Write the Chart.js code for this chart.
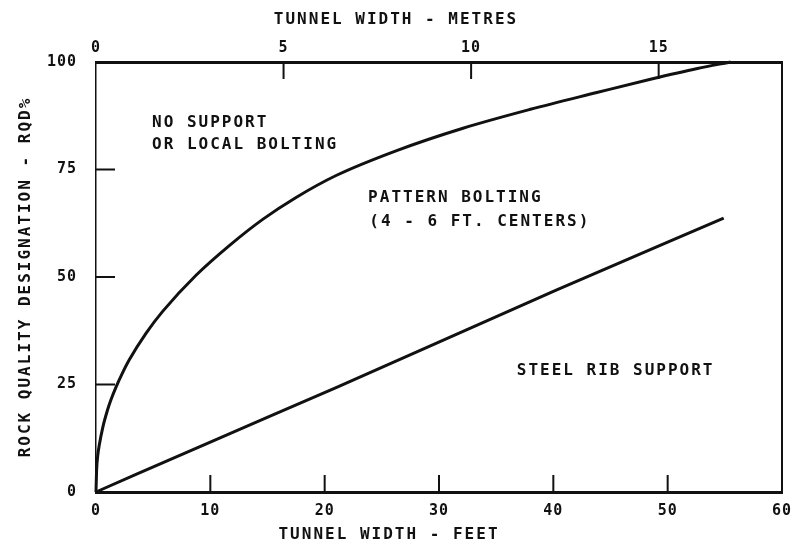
<!DOCTYPE html>
<html>
<head>
<meta charset="utf-8">
<script src="https://cdn.jsdelivr.net/npm/chart.js@4/dist/chart.umd.min.js"></script>
<style>
  html, body { margin: 0; padding: 0; background: #fff; }
  canvas { display: block; }
</style>
</head>
<body>
<canvas id="rqdChart" width="794" height="549"></canvas>
<script>
// -------- DATA ---------------------------------------------------------------
// boundary: no support / pattern bolting
const upperX = [0, 0.05, 0.15, 0.3, 0.6, 1, 1.3, 1.75, 2.3, 2.9, 4.37, 5.83, 8.75, 11.66, 14.58, 17.5, 21, 26.3, 32.1, 38, 43.8, 48.5, 52.6, 55.5];
const upperY = [0, 4.9, 8.4, 11.1, 15.1, 19, 21.4, 24.4, 27.6, 30.7, 36.9, 42, 50.4, 57.3, 63.4, 68.5, 73.6, 79.4, 84.6, 89, 92.9, 96, 98.5, 100];
// boundary: pattern bolting / steel rib support
const lowerX = [0, 10.5, 21, 40.2, 54.9];
const lowerY = [0, 12.2, 24.3, 46.9, 63.7];

const feetTicks = [0, 10, 20, 30, 40, 50, 60];
const metreTicks = [0, 5, 10, 15];
const rqdTicks = [0, 25, 50, 75, 100];

const regionNames = ["NO SUPPORT", "OR LOCAL BOLTING", "PATTERN BOLTING", "(4 - 6 FT. CENTERS)", "STEEL RIB SUPPORT"];
const regionX = [4.9, 4.9, 23.8, 23.9, 36.8];
const regionY = [85.8, 80.7, 68.4, 62.8, 28.1];

const FT_PER_M = 3.28084;
const ink = '#111';
const monoFont = "'DejaVu Sans Mono', 'Liberation Mono', monospace";

function toPoints(xs, ys) {
    return xs.map((x, i) => ({x: x, y: ys[i]}));
}

// keep the plot frame where the drawing has it
function fixBox(w, h) {
    return s => {
        if (w !== null) s.width = w;
        if (h !== null) s.height = h;
        s.paddingLeft = 0;
        s.paddingRight = 0;
        s.paddingTop = 0;
        s.paddingBottom = 0;
    };
}

// -------- INWARD TICKS, REGION NAMES, AXIS TITLES ----------------------------
const paperMarks = {
    id: 'paperMarks',
    beforeDraw(chart) {
        chart.ctx.letterSpacing = '1px';
    },
    afterDraw(chart) {
        const {ctx, chartArea: a, scales} = chart;
        const len = 17;
        ctx.save();
        ctx.strokeStyle = ink;
        ctx.lineWidth = 2;
        ctx.beginPath();
        feetTicks.forEach(v => {
            if (v <= 0 || v >= 60) return;
            const px = scales.x.getPixelForValue(v);
            ctx.moveTo(px, a.bottom);
            ctx.lineTo(px, a.bottom - len);
        });
        metreTicks.forEach(v => {
            if (v <= 0) return;
            const px = scales.xTop.getPixelForValue(v);
            ctx.moveTo(px, a.top);
            ctx.lineTo(px, a.top + len);
        });
        rqdTicks.forEach(v => {
            if (v <= 0 || v >= 100) return;
            const py = scales.y.getPixelForValue(v);
            ctx.moveTo(a.left, py);
            ctx.lineTo(a.left + 19, py);
        });
        ctx.stroke();

        ctx.fillStyle = ink;
        ctx.font = "bold 16px " + monoFont;
        ctx.letterSpacing = '2px';
        ctx.textBaseline = 'middle';

        // region names inside the plot
        ctx.textAlign = 'left';
        regionNames.forEach((txt, i) => {
            ctx.fillText(txt, scales.x.getPixelForValue(regionX[i]), scales.y.getPixelForValue(regionY[i]));
        });

        // axis titles
        ctx.textAlign = 'center';
        ctx.fillText("TUNNEL WIDTH - METRES", a.left + 300, 20);
        ctx.fillText("TUNNEL WIDTH - FEET", a.left + 293, 535);
        ctx.save();
        ctx.translate(26, (a.top + a.bottom) / 2);
        ctx.rotate(-Math.PI / 2);
        ctx.fillText("ROCK QUALITY DESIGNATION - RQD%", 0, 0);
        ctx.restore();
        ctx.restore();
    }
};

// -------- CHART ---------------------------------------------------------------
const tickFont = { family: monoFont, size: 15, weight: 'bold' };
const hiddenGrid = { drawOnChartArea: false, drawTicks: false, color: 'rgba(0,0,0,0)' };

new Chart(document.getElementById('rqdChart'), {
    type: 'line',
    data: {
        datasets: [{
            data: toPoints(upperX, upperY),
            borderColor: ink,
            borderWidth: 3,
            pointRadius: 0,
            cubicInterpolationMode: 'monotone',
            clip: false
        }, {
            data: toPoints(lowerX, lowerY),
            borderColor: ink,
            borderWidth: 3,
            pointRadius: 0,
            cubicInterpolationMode: 'monotone',
            clip: false
        }]
    },
    options: {
        responsive: false,
        animation: false,
        events: [],
        layout: { padding: 0 },
        plugins: {
            legend: { display: false },
            tooltip: { enabled: false }
        },
        scales: {
            x: {
                type: 'linear',
                position: 'bottom',
                min: 0,
                max: 60,
                afterBuildTicks: s => { s.ticks = feetTicks.map(v => ({value: v})); },
                ticks: { color: ink, font: tickFont, padding: 10, maxRotation: 0 },
                grid: hiddenGrid,
                border: { color: ink, width: 3 },
                afterFit: fixBox(null, 57)
            },
            xTop: {
                type: 'linear',
                position: 'top',
                min: 0,
                max: 60 / FT_PER_M,
                afterBuildTicks: s => { s.ticks = metreTicks.map(v => ({value: v})); },
                ticks: { color: ink, font: tickFont, padding: 5, maxRotation: 0 },
                grid: hiddenGrid,
                border: { color: ink, width: 3 },
                afterFit: fixBox(null, 62)
            },
            y: {
                type: 'linear',
                position: 'left',
                min: 0,
                max: 100,
                afterBuildTicks: s => { s.ticks = rqdTicks.map(v => ({value: v})); },
                ticks: { color: ink, font: tickFont, padding: 19 },
                grid: hiddenGrid,
                border: { color: ink, width: 1.5, dash: [9, 3] },
                afterFit: fixBox(96, null)
            },
            yRight: {
                type: 'linear',
                position: 'right',
                min: 0,
                max: 100,
                ticks: { display: false },
                grid: hiddenGrid,
                border: { color: ink, width: 2 },
                afterFit: fixBox(12, null)
            }
        }
    },
    plugins: [paperMarks]
});
</script>
</body>
</html>
